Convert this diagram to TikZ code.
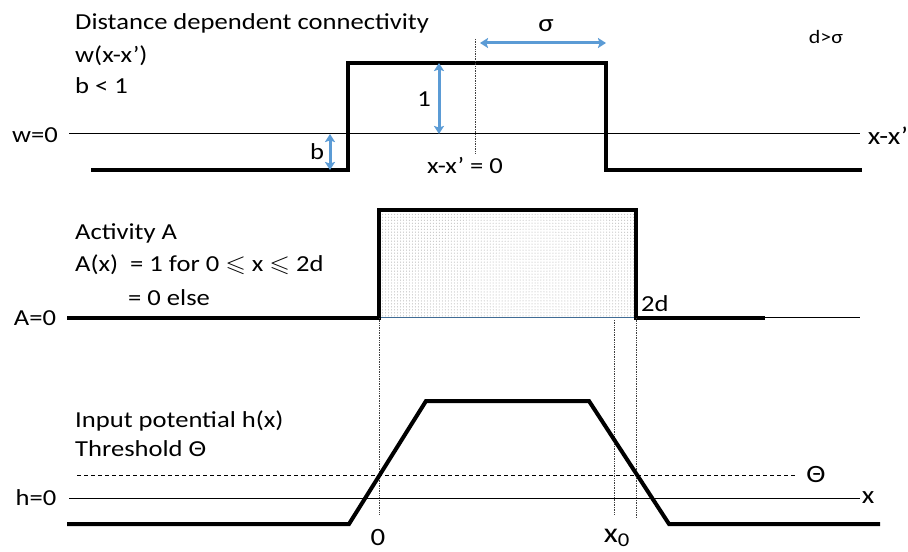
\documentclass[tikz,border=0pt]{standalone}
\usepackage{fontspec}
\usepackage{amssymb}
\usepackage{graphicx}
\setmainfont{Carlito}
\usetikzlibrary{arrows.meta,patterns}
\definecolor{arrowblue}{HTML}{5B9BD5}
\newcommand\widetxt[1]{\scalebox{1.16}[1]{#1}}
\tikzset{
  curve/.style={line width=4bp, line join=miter},
  axisline/.style={line width=1bp},
  guide/.style={line width=0.7bp, black!75, dash pattern=on 0.7bp off 1bp},
  thr/.style={line width=1bp, dash pattern=on 4bp off 3bp},
  barrow/.style={arrowblue, line width=3bp, {Stealth[length=8bp,width=10bp,inset=1.5bp]}-{Stealth[length=8bp,width=10bp,inset=1.5bp]}},
  lbl/.style={font=\fontsize{23}{28}\selectfont, inner sep=0pt},
  biglbl/.style={font=\fontsize{25}{30}\selectfont, inner sep=0pt},
  small/.style={font=\fontsize{19}{22}\selectfont, inner sep=0pt},
}
\begin{document}
\begin{tikzpicture}[x=1bp,y=1bp]
\useasboundingbox (0,0) rectangle (908,-552);
% ---------- top panel ----------
\coordinate (w0L) at (69,-134);
\coordinate (w0R) at (860,-134);
\draw[axisline] (w0L) -- (w0R);
\coordinate (t1) at (91,-170);
\coordinate (t2) at (348,-170);
\coordinate (t3) at (348,-63);
\coordinate (t4) at (606,-63);
\coordinate (t5) at (606,-170);
\coordinate (t6) at (862,-170);
\draw[curve] (t1) -- (t2) -- (t3) -- (t4) -- (t5) -- (t6);
\coordinate (c1) at (475,-39);
\coordinate (c2) at (475,-153);
\draw[guide] (c1) -- (c2);
\coordinate (s1) at (480,-43);
\coordinate (s2) at (606,-43);
\draw[barrow] (s1) -- (s2);
\coordinate (o1) at (439,-63);
\coordinate (o2) at (439,-134);
\draw[barrow] (o1) -- (o2);
\coordinate (b1) at (330,-134);
\coordinate (b2) at (330,-170);
\draw[barrow] (b1) -- (b2);
\node[lbl, anchor=base west] (ttl1) at (75,-30) {\widetxt{Distance dependent connectivity}};
\node[lbl, anchor=base west] (ttl2) at (75,-63) {\widetxt{w(x-x’)}};
\node[lbl, anchor=base west] (ttl3) at (75,-94) {\widetxt{b < 1}};
\node[lbl] (lw0) at (35,-135) {\widetxt{w=0}};
\node[biglbl] (lxx) at (888,-136) {\widetxt{x-x’}};
\node[lbl] (lxx0) at (465,-166) {\widetxt{x-x’ = 0}};
\node[biglbl] (lsig) at (546,-26) {\widetxt{σ}};
\node[small] (ldsig) at (826,-37) {\widetxt{d>σ}};
\node[lbl] (lone) at (424,-99) {\widetxt{1}};
\node[lbl] (lb) at (317,-152) {\widetxt{b}};
% ---------- middle panel ----------
\coordinate (aL) at (67,-318);
\coordinate (aR) at (860,-318);
\coordinate (m1) at (379,-318);
\coordinate (m2) at (379,-210);
\coordinate (m3) at (636,-210);
\coordinate (m4) at (636,-318);
\coordinate (m5) at (765,-318);
\fill[pattern=dots, pattern color=black!35] (m2) rectangle (m4);
\draw[axisline] (aL) -- (aR);
\draw[line width=1bp, arrowblue!70!black] (m1) -- (m4);
\draw[curve] (aL) -- (m1) -- (m2) -- (m3) -- (m4) -- (m5);
\node[lbl, anchor=base west] (act1) at (75,-240) {\widetxt{Activity A}};
\node[lbl, anchor=base west] (act2) at (75,-272) {\widetxt{A(x)\ \ = 1 for 0 $\leqslant$ x $\leqslant$ 2d}};
\node[lbl, anchor=base west] (act3) at (128,-306) {\widetxt{= 0 else}};
\node[lbl] (lA0) at (35,-318) {\widetxt{A=0}};
\node[lbl, anchor=base west] (l2d) at (641,-312) {\widetxt{2d}};
% guides
\coordinate (g1a) at (379,-318);
\coordinate (g1b) at (379,-515);
\coordinate (g2a) at (614,-320);
\coordinate (g2b) at (614,-515);
\coordinate (g3a) at (636,-318);
\coordinate (g3b) at (636,-517);
\draw[guide] (g1a) -- (g1b);
\draw[guide] (g2a) -- (g2b);
\draw[guide] (g3a) -- (g3b);
% ---------- bottom panel ----------
\coordinate (hL) at (69,-498);
\coordinate (hR) at (860,-498);
\draw[axisline] (hL) -- (hR);
\coordinate (thL) at (77,-475);
\coordinate (thR) at (798,-475);
\draw[thr] (thL) -- (thR);
\coordinate (p1) at (67,-524);
\coordinate (p2) at (349,-524);
\coordinate (p3) at (426,-401);
\coordinate (p4) at (589,-401);
\coordinate (p5) at (669,-524);
\coordinate (p6) at (880,-524);
\draw[curve] (p1) -- (p2) -- (p3) -- (p4) -- (p5) -- (p6);
\node[lbl, anchor=base west] (in1) at (75,-427) {\widetxt{Input potential h(x)}};
\node[lbl, anchor=base west] (in2) at (75,-456) {\widetxt{Threshold Θ}};
\node[lbl] (lh0) at (36,-498) {\widetxt{h=0}};
\node[biglbl] (lth) at (816,-475) {\widetxt{Θ}};
\node[biglbl] (lx) at (868,-498) {\widetxt{x}};
\node[biglbl] (lzero) at (378,-538) {\widetxt{0}};
\node[font=\fontsize{28}{30}\selectfont, inner sep=0pt] (lx0) at (617,-538) {\widetxt{x\textsubscript{0}}};
\end{tikzpicture}
\end{document}
